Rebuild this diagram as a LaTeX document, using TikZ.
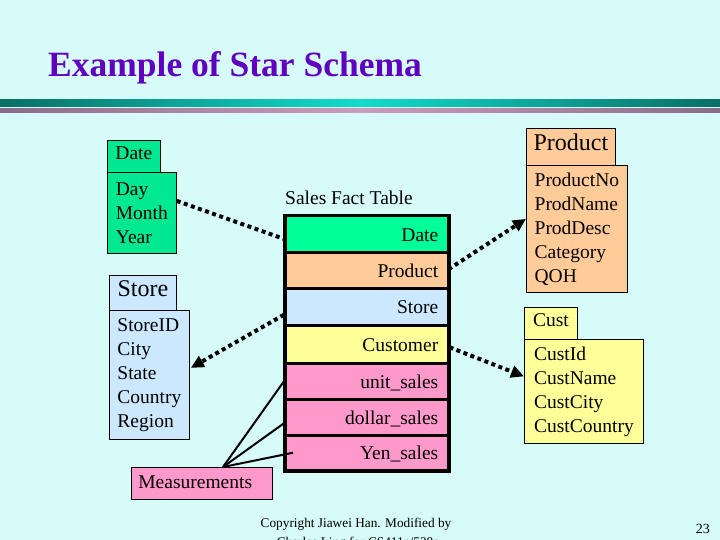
\documentclass[tikz,border=0pt]{standalone}
\usepackage{fontspec}
\setmainfont{Liberation Serif}
\usetikzlibrary{arrows.meta,calc}
\definecolor{bgc}{HTML}{D6FBF8}
\definecolor{titlec}{HTML}{6000C0}
\definecolor{tealdark}{HTML}{0A6E64}
\definecolor{tealbright}{HTML}{12DCCB}
\definecolor{mauvedark}{HTML}{8A6C88}
\definecolor{mauvelight}{HTML}{CC9CBE}
\definecolor{dimgreen}{HTML}{00E890}
\definecolor{factgreen}{HTML}{00FF99}
\definecolor{peach}{HTML}{FFCC99}
\definecolor{lblue}{HTML}{CCE8FF}
\definecolor{lyellow}{HTML}{FFFF99}
\definecolor{lpink}{HTML}{FF99CC}
\begin{document}
\begin{tikzpicture}[x=1pt,y=-1pt,
  hdr/.style={draw=black, line width=0.8pt, anchor=north west, inner sep=0pt,
    text height=0.75em, text depth=0.1em},
  hdrsmall/.style={hdr, font=\fontsize{19.5}{24}\selectfont},
  hdrbig/.style={hdr, font=\fontsize{24}{28}\selectfont},
  dimbody/.style={draw=black, line width=0.8pt, anchor=north west, inner sep=0pt,
    align=left, font=\fontsize{19.5}{24}\selectfont},
  factrow/.style={draw=black, line width=2.5pt, anchor=north west, inner xsep=10pt,
    inner ysep=0pt, text width=143pt, align=right, text height=16pt, text depth=2pt,
    font=\fontsize{19.5}{24}\selectfont},
  dotline/.style={line width=4pt, dash pattern=on 4pt off 3.5pt},
  dotarrow/.style={dotline, -{Triangle[length=13pt,width=12pt]}},
  mline/.style={line width=2pt},
  plain/.style={font=\fontsize{19.5}{24}\selectfont, inner sep=0pt}
]
\useasboundingbox (0,0) rectangle (720,540);
\fill[bgc] (0,0) rectangle (720,540);

% title and bars
\node[anchor=base west, inner sep=0pt, text=titlec,
      font=\fontsize{35.5}{40}\selectfont\bfseries] (title) at (48,77) {Example of Star Schema};
\shade[left color=tealdark, right color=tealdark, middle color=tealbright] (0,100) rectangle (720,107);
\shade[left color=mauvedark, right color=mauvedark, middle color=mauvelight] (0,109) rectangle (720,113);

% Date dimension
\node[hdrsmall, fill=dimgreen, minimum width=53, minimum height=32] (dhead) at (107,140) {Date};
\node[dimbody, fill=dimgreen, minimum width=69, minimum height=81] (dbody) at (107,172) {Day\\Month\\Year};

% Store dimension
\node[hdrbig, fill=lblue, minimum width=67, minimum height=35] (shead) at (109,275) {Store};
\node[dimbody, fill=lblue, minimum width=80, minimum height=129] (sbody) at (109,310) {StoreID\\City\\State\\Country\\Region};

% Product dimension
\node[hdrbig, fill=peach, minimum width=89, minimum height=37] (phead) at (526,128) {Product};
\node[dimbody, fill=peach, minimum width=101, minimum height=127] (pbody) at (526,165) {ProductNo\\ProdName\\ProdDesc\\Category\\QOH};

% Customer dimension
\node[hdrsmall, fill=lyellow, minimum width=53, minimum height=32] (chead) at (524,307) {Cust};
\node[dimbody, fill=lyellow, minimum width=119, minimum height=104] (cbody) at (524,339) {CustId\\CustName\\CustCity\\CustCountry};

% Fact table
\node[plain, anchor=base west] (ftitle) at (285,205) {Sales Fact Table};
\node[factrow, fill=factgreen, minimum height=36] (fdate) at (284,215) {Date};
\node[factrow, fill=peach, minimum height=36] (fprod) at (284,251) {Product};
\node[factrow, fill=lblue, minimum height=37] (fstore) at (284,287) {Store\hspace*{7pt}};
\node[factrow, fill=lyellow, minimum height=38] (fcust) at (284,324) {Customer};
\node[factrow, fill=lpink, minimum height=36] (funit) at (284,362) {unit\_sales};
\node[factrow, fill=lpink, minimum height=36] (fdollar) at (284,398) {dollar\_sales};
\node[factrow, fill=lpink, minimum height=35] (fyen) at (284,434) {Yen\_sales};
\draw[line width=2.5pt] (fdate.north west) rectangle (fyen.south east);

% Measurements
\node[draw=black, line width=0.8pt, fill=lpink, anchor=north west, inner xsep=7pt, inner ysep=0pt,
      text width=127pt, align=left, minimum height=32, text height=14pt, text depth=3pt,
      font=\fontsize{19.5}{24}\selectfont] (meas) at (131,467) {Measurements};
\coordinate (mpt) at ($(meas.north west)+(92,0)$);
\draw[mline] (mpt) -- (funit.west);
\draw[mline] (mpt) -- ($(fdollar.west)+(0,6)$);
\draw[mline] (mpt) -- ($(fyen.west)+(9,0)$);

% dotted connectors
\draw[dotline] ($(dbody.east)+(0,-12)$) -- ($(fdate.west)+(1,5)$);
\draw[dotarrow] ($(fprod.east)+(-1,-1)$) -- ($(pbody.west)+(0,-10)$);
\draw[dotarrow] ($(fstore.west)+(0,8)$) -- ($(sbody.east)+(1,-7)$);
\draw[dotarrow] ($(fcust.east)+(0,3)$) -- ($(cbody.west)+(0,-15)$);

% footer
\node[anchor=base, inner sep=0pt, font=\fontsize{13.3}{16}\selectfont] (copy1) at (356,527) {Copyright Jiawei Han. Modified by};
\node[anchor=base, inner sep=0pt, font=\fontsize{13.3}{16}\selectfont] (copy2) at (358,546) {Charles Ling for CS411a/538a};
\node[anchor=base east, inner sep=0pt, font=\fontsize{14}{16}\selectfont] (pg) at (710,533) {23};
\end{tikzpicture}
\end{document}
